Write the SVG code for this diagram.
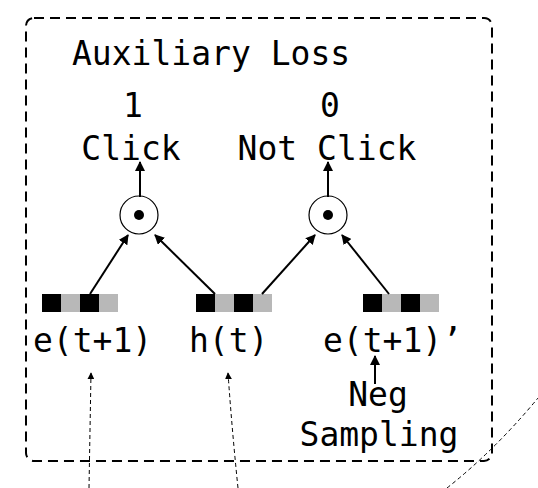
<svg xmlns="http://www.w3.org/2000/svg" width="538" height="488" viewBox="0 0 538 488">
<defs>
<marker id="ah" viewBox="0 0 10 10" refX="9" refY="5" markerWidth="10" markerHeight="10" markerUnits="userSpaceOnUse" orient="auto">
<path d="M0,0 L10,5 L0,10 Z" fill="#000"/>
</marker>
<marker id="ahs" viewBox="0 0 10 10" refX="9" refY="5" markerWidth="7" markerHeight="7" markerUnits="userSpaceOnUse" orient="auto">
<path d="M0,0 L10,5 L0,10 Z" fill="#000"/>
</marker>
</defs>
<style>
text{font-family:"DejaVu Sans Mono","Liberation Mono",monospace;font-size:33px;fill:#000}
.box{fill:none;stroke:#000;stroke-width:2;stroke-dasharray:10,6}
.conn{fill:none;stroke:#000;stroke-width:2;marker-end:url(#ah)}
.dash{fill:none;stroke:#000;stroke-width:1;stroke-dasharray:4,3;marker-end:url(#ahs)}
.blk{fill:#000}
.gry{fill:#b8b8b8}
.op{fill:#fff;stroke:#000;stroke-width:1.2}
</style>
<rect class="box" x="26" y="18" width="466" height="443" rx="8"/>
<text id="title" x="72" y="65">Auxiliary Loss</text>
<g id="label1"><text x="133" y="117" text-anchor="middle">1</text><text x="131" y="160" text-anchor="middle">Click</text></g>
<g id="label0"><text x="330" y="117" text-anchor="middle">0</text><text x="327" y="160" text-anchor="middle">Not Click</text></g>
<g id="op1"><circle class="op" cx="139" cy="215" r="19"/><circle cx="139" cy="215" r="5" class="blk"/></g>
<g id="op2"><circle class="op" cx="328" cy="215" r="19"/><circle cx="328" cy="215" r="5" class="blk"/></g>
<g id="vec1"><rect class="blk" x="42" y="294" width="19" height="18"/><rect class="gry" x="61" y="294" width="19" height="18"/><rect class="blk" x="80" y="294" width="19" height="18"/><rect class="gry" x="99" y="294" width="19" height="18"/><text x="33" y="352">e(t+1)</text></g>
<g id="vec2"><rect class="blk" x="196" y="294" width="19" height="18"/><rect class="gry" x="215" y="294" width="19" height="18"/><rect class="blk" x="234" y="294" width="19" height="18"/><rect class="gry" x="253" y="294" width="19" height="18"/><text x="189" y="352">h(t)</text></g>
<g id="vec3"><rect class="blk" x="363" y="294" width="19" height="18"/><rect class="gry" x="382" y="294" width="19" height="18"/><rect class="blk" x="401" y="294" width="19" height="18"/><rect class="gry" x="420" y="294" width="19" height="18"/><text x="323" y="352">e(t+1)’</text></g>
<g id="neg"><text x="378" y="406" text-anchor="middle">Neg</text><text x="379" y="446" text-anchor="middle">Sampling</text></g>
<g id="connectors">
<path class="conn" d="M140,197 L140,162"/>
<path class="conn" d="M328,197 L328,162"/>
<path class="conn" d="M90,294 L128,235"/>
<path class="conn" d="M215,294 L155,235"/>
<path class="conn" d="M262,294 L315,235"/>
<path class="conn" d="M389,294 L342,235"/>
<path class="conn" d="M375,384 L375,356"/>
<path class="dash" d="M89,488 L91,373"/>
<path class="dash" d="M238,488 Q232,430 228,373"/>
<path class="dash" d="M447,488 Q495,450 538,398" style="marker-end:none"/>
</g>
</svg>
